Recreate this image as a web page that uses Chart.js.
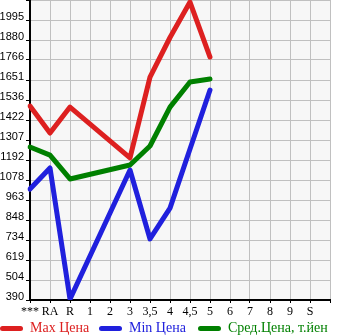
<!DOCTYPE html>
<html>
<head>
<meta charset="utf-8">
<script src="https://cdn.jsdelivr.net/npm/chart.js@4/dist/chart.umd.min.js"></script>
<style>
  html, body { margin: 0; padding: 0; background: #fff; }
  #wrap { position: relative; width: 345px; height: 335px; }
  #legend { position: absolute; left: 0; top: 319px; width: 345px; height: 17px;
            font-family: "Liberation Serif", serif; font-size: 14px; }
  .item { position: absolute; top: 0; white-space: nowrap; }
  .mark { position: absolute; top: 7px; width: 23px; height: 5px; border-radius: 3px; }
  .txt { position: absolute; top: 0; line-height: 17px; }
</style>
</head>
<body>
<div id="wrap">
  <canvas id="chart" width="345" height="335"></canvas>
  <div id="legend"></div>
</div>
<script>
  // categories along the bottom (last slot is an empty column)
  var categories = ['***', 'RA', 'R', '1', '2', '3', '3,5', '4', '4,5', '5', '6', '7', '8', '9', 'S', ''];

  // prices, null where no point
  var maxPrice = [1502, 1347, 1496, null, null, 1205, 1668, 1895, 2098, 1783, null, null, null, null, null, null];
  var minPrice = [1026, 1147, 395, null, null, 1135, 740, 917, 1256, 1594, null, null, null, null, null, null];
  var avgPrice = [1267, 1221, 1084, null, null, 1164, 1273, 1496, 1640, 1657, null, null, null, null, null, null];

  var yTicks = [390, 504, 619, 734, 848, 963, 1078, 1192, 1307, 1422, 1536, 1651, 1766, 1880, 1995];
  var yMax = 2110;

  var seriesNames = ['Max Цена', 'Min Цена', 'Сред.Цена, т.йен'];
  var seriesColors = ['#dd2020', '#2020dd', '#008000'];

  // ── plot background ─────────────────────────────────────────────── //
  var plotBg = {
    id: 'plotBg',
    beforeDraw: function (chart) {
      var a = chart.chartArea, ctx = chart.ctx;
      ctx.save();
      ctx.fillStyle = '#f7f7f7';
      ctx.fillRect(a.left, a.top, a.right - a.left, a.bottom - a.top);
      ctx.restore();
    }
  };

  function line(i, data) {
    return {
      label: seriesNames[i],
      data: data,
      borderColor: seriesColors[i],
      backgroundColor: seriesColors[i],
      borderWidth: 5,
      pointRadius: 0,
      borderCapStyle: 'round',
      borderJoinStyle: 'round',
      spanGaps: true,
      tension: 0
    };
  }

  new Chart(document.getElementById('chart').getContext('2d'), {
    type: 'line',
    data: {
      labels: categories,
      datasets: [line(0, maxPrice), line(1, minPrice), line(2, avgPrice)]
    },
    options: {
      responsive: false,
      animation: false,
      layout: { padding: { top: 0, right: 15, left: 0, bottom: 0 } },
      plugins: { legend: { display: false }, tooltip: { enabled: false } },
      scales: {
        x: {
          type: 'category',
          offset: false,
          afterFit: function (s) {
            s.height = 35;
            s.paddingLeft = 0; s.paddingRight = 0;
          },
          grid: { color: '#c0c0c0', lineWidth: 1, tickColor: '#000', tickLength: 3 },
          border: { color: '#000', width: 2 },
          ticks: {
            autoSkip: false, maxRotation: 0, padding: 2, color: '#000',
            font: { family: 'Liberation Serif', size: 12 }
          }
        },
        y: {
          min: yTicks[0],
          max: yMax,
          afterFit: function (s) {
            s.width = 30;
            s.paddingTop = 0; s.paddingBottom = 0;
          },
          afterBuildTicks: function (s) {
            s.ticks = yTicks.map(function (v) { return { value: v }; }).concat([{ value: yMax }]);
          },
          grid: { color: '#c0c0c0', lineWidth: 1, tickColor: '#000', tickLength: 4 },
          border: { color: '#000', width: 2 },
          ticks: {
            padding: 2, color: '#000', labelOffset: -3,
            font: { family: 'Liberation Sans', size: 11 },
            callback: function (v) { return v === yMax ? '' : String(v); }
          }
        }
      }
    },
    plugins: [plotBg]
  });

  // ── legend ──────────────────────────────────────────────────────── //
  var legendX = [0, 99, 198];
  var legendEl = document.getElementById('legend');
  seriesNames.forEach(function (name, i) {
    var item = document.createElement('div');
    item.className = 'item';
    item.style.left = legendX[i] + 'px';
    item.innerHTML =
      '<span class="mark" style="left:0;background:' + seriesColors[i] + '"></span>' +
      '<span class="txt" style="left:30px;color:' + seriesColors[i] + '">' + name + '</span>';
    legendEl.appendChild(item);
  });
</script>
</body>
</html>
